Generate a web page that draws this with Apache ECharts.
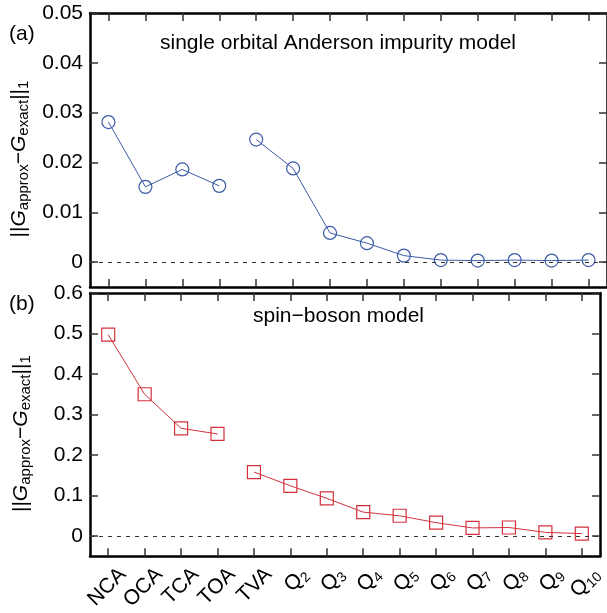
<!DOCTYPE html>
<html><head><meta charset="utf-8">
<script src="https://cdn.jsdelivr.net/npm/echarts@6/dist/echarts.min.js"></script>
<style>html,body{margin:0;padding:0;background:#fff}#c{width:607px;height:613px}</style>
</head><body><div id="c"></div>
<script>
// ---- data ----
const categories = ['NCA','OCA','TCA','TOA','TVA','Q2','Q3','Q4','Q5','Q6','Q7','Q8','Q9','Q10'];
const andersonErr = [0.0281, 0.0151, 0.0186, 0.0153, 0.0246, 0.0188, 0.00585, 0.0038, 0.0013, 0.0004, 0.0003, 0.0004, 0.0003, 0.0004];
const spinBosonErr = [0.497, 0.350, 0.266, 0.252, 0.158, 0.124, 0.093, 0.059, 0.050, 0.033, 0.020, 0.021, 0.009, 0.006];
const andersonTicks = [0, 0.01, 0.02, 0.03, 0.04, 0.05];
const spinBosonTicks = [0, 0.1, 0.2, 0.3, 0.4, 0.5, 0.6];
const segmentA = [0, 3];   // NCA..TOA
const segmentB = [4, 13];  // TVA..Q10
const panelTags = ['(a)', '(b)'];
const panelTitles = ['single orbital Anderson impurity model', 'spin\u2212boson model'];

// ---- build ----
const FONT = 'Liberation Sans, Arial, sans-serif';
const FS = 21;
const xIdx = categories.map((_, i) => i);
function seg(arr, s) { const out = []; for (let i = s[0]; i <= s[1]; i++) out.push([i, arr[i]]); return out; }
function ticks(values) {
  return {show: true, inside: true, length: 8, customValues: values.slice(), lineStyle: {color: '#333', width: 1.5}};
}
function frame() { return {show: true, onZero: false, lineStyle: {color: '#000', width: 2.5}}; }

const chart = echarts.init(document.getElementById('c'), null, {renderer: 'canvas'});
const nameRich = {
  b: {fontSize: FS, fontFamily: FONT, lineHeight: 24, color: '#000'},
  g: {fontSize: FS, fontFamily: FONT, fontStyle: 'italic', lineHeight: 24, color: '#000'},
  s: {fontSize: 15, fontFamily: FONT, lineHeight: 12, verticalAlign: 'bottom', color: '#000'}
};
const yName = '{b|||}{g|G}{s|approx}{b|\u2212}{g|G}{s|exact}{b|||}{s|1}';
const LABEL_SHIFT = 0.4; // label anchor sits a little right of its tick

function xAxes(gi, withLabels) {
  const axes = [{
    type: 'value', gridIndex: gi, min: -0.5, max: 13.5, position: 'bottom',
    axisLine: frame(), splitLine: {show: false}, axisTick: ticks(xIdx),
    axisLabel: {show: false}
  }, {
    type: 'value', gridIndex: gi, min: -0.5, max: 13.5, position: 'top',
    axisLine: frame(), splitLine: {show: false}, axisTick: ticks(xIdx),
    axisLabel: {show: false}
  }];
  if (withLabels) axes.push({
    type: 'value', gridIndex: gi, min: -0.5 - LABEL_SHIFT, max: 13.5 - LABEL_SHIFT, position: 'bottom',
    axisLine: {show: false, onZero: false}, splitLine: {show: false}, axisTick: {show: false},
    axisLabel: {
      customValues: xIdx, rotate: 45, margin: 15,
      formatter: v => {
        const c = categories[Math.round(v)] || '';
        if (c[0] === 'Q') return '{q|Q}{s|' + c.slice(1) + '}';
        return '{q|' + c + '}';
      },
      rich: {
        q: {fontSize: FS, fontFamily: FONT, color: '#000', lineHeight: 24},
        s: {fontSize: 14, fontFamily: FONT, color: '#000', lineHeight: 12, verticalAlign: 'bottom'}
      }
    }
  });
  return axes;
}
function yAxes(gi, min, max, tv) {
  return [{
    type: 'value', gridIndex: gi, min: min, max: max, position: 'left',
    name: yName, nameLocation: 'middle', nameGap: 57, nameRotate: 90,
    nameTextStyle: {rich: nameRich, padding: [0, 18, 0, 0]},
    axisLine: frame(), splitLine: {show: false}, axisTick: ticks(tv),
    axisLabel: {customValues: tv.slice(), fontSize: FS, fontFamily: FONT, color: '#000', margin: 7}
  }, {
    type: 'value', gridIndex: gi, min: min, max: max, position: 'right',
    axisLine: frame(), splitLine: {show: false}, axisTick: ticks(tv),
    axisLabel: {show: false}
  }];
}
function zeroLine() {
  return {
    silent: true, symbol: 'none', label: {show: false},
    lineStyle: {type: [4, 5], color: '#333', width: 1},
    data: [{yAxis: 0}]
  };
}
function lineSeries(gi, data, color, symbol, withZero) {
  const s = {
    type: 'line', xAxisIndex: gi === 0 ? 0 : 2, yAxisIndex: gi * 2, data: data,
    symbol: symbol, symbolSize: 13, showAllSymbol: true,
    lineStyle: {color: color, width: 1},
    itemStyle: {color: 'rgba(0,0,0,0)', borderColor: color, borderWidth: 1.2},
    z: 3
  };
  if (withZero) s.markLine = zeroLine();
  return s;
}
const blue = '#3c5aa8', red = '#d2323c';

chart.setOption({
  animation: false,
  backgroundColor: '#fff',
  grid: [
    {left: 90, top: 13, width: 518, height: 274},
    {left: 90, top: 293, width: 518, height: 275}
  ],
  xAxis: [].concat(xAxes(0, false), xAxes(1, true)),
  yAxis: [].concat(yAxes(0, -0.005, 0.05, andersonTicks), yAxes(1, -0.05, 0.6, spinBosonTicks)),
  series: [
    lineSeries(0, seg(andersonErr, segmentA), blue, 'circle', true),
    lineSeries(0, seg(andersonErr, segmentB), blue, 'circle', false),
    lineSeries(1, seg(spinBosonErr, segmentA), red, 'rect', true),
    lineSeries(1, seg(spinBosonErr, segmentB), red, 'rect', false)
  ],
  graphic: [
    {type: 'text', left: 9, top: 24, style: {text: panelTags[0], font: FS + 'px ' + FONT, fill: '#000'}},
    {type: 'text', left: 9, top: 294, style: {text: panelTags[1], font: FS + 'px ' + FONT, fill: '#000'}},
    {type: 'text', left: 160, top: 33, style: {text: panelTitles[0], font: FS + 'px ' + FONT, fill: '#000'}},
    {type: 'text', left: 253, top: 306, style: {text: panelTitles[1], font: FS + 'px ' + FONT, fill: '#000'}}
  ]
});
</script></body></html>
